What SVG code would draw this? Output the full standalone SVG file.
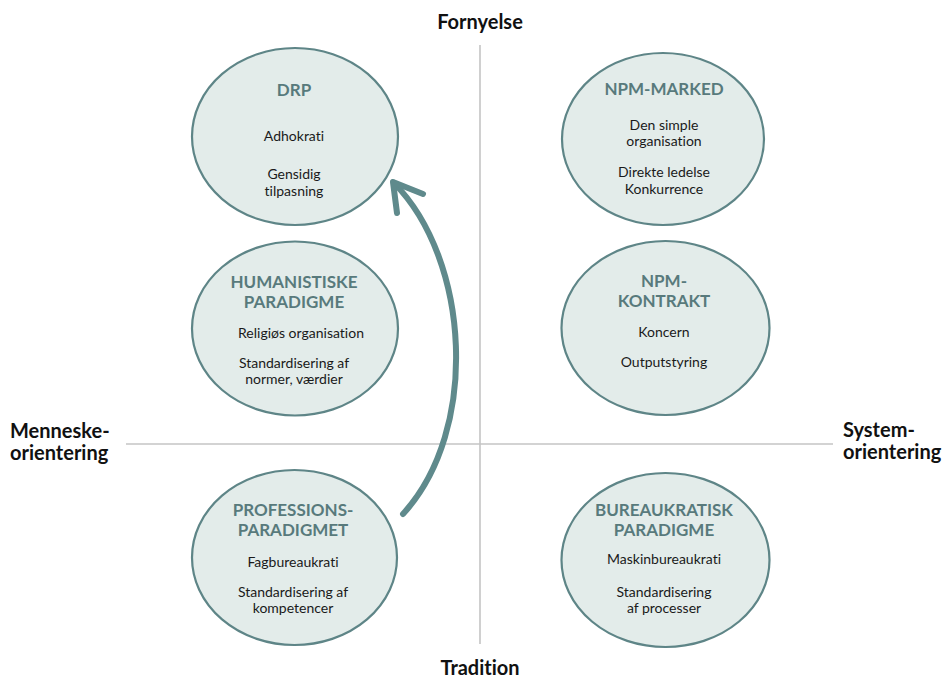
<svg xmlns="http://www.w3.org/2000/svg" width="945" height="680" viewBox="0 0 945 680">
  <style>
    text { font-variant-ligatures: none; }
    .axis { stroke: #c4c4c4; stroke-width: 1.6; fill: none; }
    .blob { fill: #e3ecea; stroke: #5e8587; stroke-width: 2.2; }
    .title { font-family: Lato, "Liberation Sans", sans-serif; font-weight: 700; font-size: 17px; fill: #587a7c; text-anchor: middle; }
    .body { font-family: Lato, "Liberation Sans", sans-serif; font-size: 14px; fill: #1a1a1a; text-anchor: middle; }
    .pole { font-family: Lato, "Liberation Sans", sans-serif; font-weight: 700; font-size: 20px; fill: #111111; }
    .flow { fill: none; stroke: #5f8a8c; stroke-width: 6; stroke-linecap: round; stroke-linejoin: round; }
  </style>

  <!-- quadrant axes -->
  <g id="axes">
    <line class="axis" x1="480" y1="45" x2="480" y2="644"/>
    <line class="axis" x1="126" y1="444" x2="833" y2="444"/>
  </g>

  <!-- axis pole labels -->
  <g id="poles">
    <text class="pole" x="480" y="29" text-anchor="middle">Fornyelse</text>
    <text class="pole" x="480" y="675" text-anchor="middle">Tradition</text>
    <text class="pole" x="10" y="438">Menneske-</text>
    <text class="pole" x="10" y="460">orientering</text>
    <text class="pole" x="843" y="437">System-</text>
    <text class="pole" x="843" y="459">orientering</text>
  </g>

  <!-- left column -->
  <g id="drp">
    <ellipse class="blob" cx="295" cy="136.5" rx="103" ry="88.5"/>
    <text class="title" x="294" y="96">DRP</text>
    <text class="body" x="294" y="141">Adhokrati</text>
    <text class="body" x="294" y="179">Gensidig</text>
    <text class="body" x="294" y="196">tilpasning</text>
  </g>

  <g id="humanistiske">
    <ellipse class="blob" cx="295" cy="328.5" rx="103" ry="87"/>
    <text class="title" x="294" y="288">HUMANISTISKE</text>
    <text class="title" x="294" y="308">PARADIGME</text>
    <text class="body" x="301" y="338">Religiøs organisation</text>
    <text class="body" x="294" y="368">Standardisering af</text>
    <text class="body" x="294" y="384">normer, værdier</text>
  </g>

  <g id="professions">
    <ellipse class="blob" cx="294.5" cy="557.5" rx="102.5" ry="87.5"/>
    <text class="title" x="293" y="516">PROFESSIONS-</text>
    <text class="title" x="293" y="536">PARADIGMET</text>
    <text class="body" x="293" y="567">Fagbureaukrati</text>
    <text class="body" x="293" y="597">Standardisering af</text>
    <text class="body" x="293" y="613">kompetencer</text>
  </g>

  <!-- right column -->
  <g id="npm-marked">
    <ellipse class="blob" cx="663" cy="139" rx="101" ry="86"/>
    <text class="title" x="664" y="95">NPM-MARKED</text>
    <text class="body" x="664" y="130">Den simple</text>
    <text class="body" x="664" y="146">organisation</text>
    <text class="body" x="664" y="177">Direkte ledelse</text>
    <text class="body" x="664" y="194">Konkurrence</text>
  </g>

  <g id="npm-kontrakt">
    <ellipse class="blob" cx="665.5" cy="328" rx="104" ry="87"/>
    <text class="title" x="664" y="287">NPM-</text>
    <text class="title" x="664" y="307">KONTRAKT</text>
    <text class="body" x="664" y="337">Koncern</text>
    <text class="body" x="664" y="367">Outputstyring</text>
  </g>

  <g id="bureaukratisk">
    <ellipse class="blob" cx="665.5" cy="560" rx="104" ry="87"/>
    <text class="title" x="664" y="516">BUREAUKRATISK</text>
    <text class="title" x="664" y="536">PARADIGME</text>
    <text class="body" x="664" y="564">Maskinbureaukrati</text>
    <text class="body" x="664" y="597">Standardisering</text>
    <text class="body" x="664" y="613">af processer</text>
  </g>

  <!-- development path from profession paradigm up to DRP -->
  <g id="connectors">
    <path class="flow" d="M403,514 C480,430 470,260 394,183"/>
    <path class="flow" d="M397,213 L393,182 L423,194"/>
  </g>
</svg>
